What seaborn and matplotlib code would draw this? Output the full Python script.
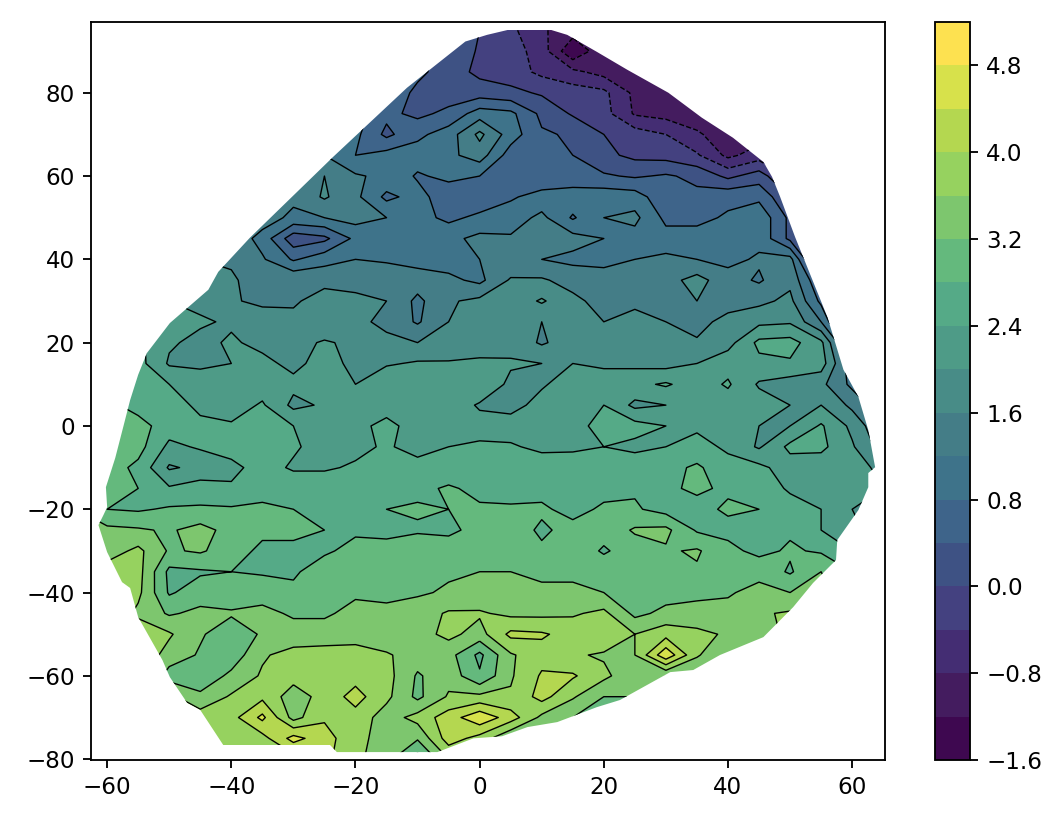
#!/usr/bin/env python3

import numpy as np
import matplotlib
matplotlib.use("Agg")
import matplotlib.pyplot as plt
from matplotlib.colors import ListedColormap
from matplotlib.patches import Polygon
import seaborn as sns

sns.set_style("ticks", {"axes.edgecolor": "black", "text.color": "black",
                        "xtick.color": "black", "ytick.color": "black"})
plt.rcParams['font.family'] = 'DejaVu Sans'

# grid the surface was read on
x_vals = [-65, -60, -55, -50, -45, -40, -35, -30, -25, -20, -15, -10, -5, 0, 5, 10, 15, 20, 25, 30, 35, 40, 45, 50, 55, 60, 65]
y_vals = [95, 90, 85, 80, 75, 70, 65, 60, 55, 50, 45, 40, 35, 30, 25, 20, 15, 10, 5, 0, -5, -10, -15, -20, -25, -30, -35, -40, -45, -50, -55, -60, -65, -70, -75, -80]

# one row per y value, top to bottom
z_rows = [
    [.5, .5, .5, .5, .5, .5, .5, .5, .5, .5, .5, .4, .2, 0, -.3, -.75, -1, -1, -1, -1, -1, -1, -1, -1, -1, -1, -1],
    [.6, .6, .6, .6, .6, .6, .6, .6, .6, .6, .6, .5, .3, -.05, -.2, -.6, -1.55, -.9, -1, -1, -1, -1, -1, -1, -1, -1, -1],
    [.7, .7, .7, .7, .7, .7, .7, .7, .7, .7, .7, .5, .2, -.1, -.2, -.5, -.7, -.95, -1, -1, -1, -1, -1, -1, -1, -1, -1],
    [1, 1, 1, 1, 1, 1, 1, 1, 1, 1, .7, .3, .2, .2, .1, -.05, -.2, -.3, -.9, -1, -1, -1, -1, -1, -1, -1, -1],
    [1.1, 1.1, 1.1, 1.1, 1.1, 1.1, 1.1, 1.1, 1.1, 1, .5, .3, .5, 1, .9, .3, -.05, -.25, -.85, -.95, -1, -1, -1, -1, -1, -1, -1],
    [1.3, 1.3, 1.3, 1.3, 1.3, 1.3, 1.3, 1.3, 1.2, .9, .3, .7, 1, 1.7, 1, .45, .35, 0, -.2, -.4, -.75, -1, -1, -1, -1, -1, -1],
    [1.4, 1.4, 1.4, 1.4, 1.4, 1.4, 1.4, 1.3, 1.2, .8, .95, 1, 1.1, 1.4, .6, .45, .4, .1, -.1, -.15, -.35, -.9, -.6, -.8, -.8, -.8, -.8],
    [1.4, 1.4, 1.4, 1.4, 1.4, 1.4, 1.4, 1.4, 1.6, 1.25, 1.1, .75, .9, .8, .55, .5, .5, .45, .35, .45, .3, -.1, .2, -.5, -.5, -.5, -.5],
    [1.4, 1.4, 1.4, 1.4, 1.4, 1.4, 1.4, 1.3, 1.65, 1.3, .7, .95, .55, .5, .75, .95, 1.05, 1.05, 1, .5, .5, .7, .7, 0, -.3, -.5, -.5],
    [1.4, 1.4, 1.4, 1.4, 1.4, 1.4, 1.4, 1.1, 1.2, 1.35, 1.2, .95, .7, .9, 1, 1.3, .75, 1.2, 1.3, .7, .7, .85, 1.1, .3, -.2, -.4, -.4],
    [1.5, 1.5, 1.5, 1.5, 1.5, 1.5, 1.05, .15, .3, .9, 1.1, 1.05, 1.1, 1.3, 1.25, 1.25, 1.35, 1.2, 1.05, .95, .95, 1, 1.1, .3, -.2, -.4, -.4],
    [1.6, 1.6, 1.6, 1.6, 1.6, 1.5, 1.25, .75, 1.05, 1.2, 1.15, 1.05, 1, 1.2, 1.25, 1.2, 1.1, 1.1, 1.2, 1.3, 1.2, 1.1, 1.25, 1.35, -.6, -.6, -.6],
    [1.9, 1.9, 1.9, 1.9, 1.9, 1.7, 1.25, 1.55, 1.5, 1.45, 1.45, 1.4, 1.3, 1.1, 1.65, 1.65, 1.45, 1.35, 1.4, 1.45, 1.75, 1.35, 1.15, 1.5, .4, -.4, -.4],
    [2, 2, 2, 2, 1.9, 1.65, 1.5, 1.55, 1.75, 1.7, 1.6, 1.1, 1.55, 1.7, 1.75, 2.05, 1.7, 1.45, 1.5, 1.5, 1.6, 1.4, 1.5, 1.7, .7, -.4, -.4],
    [2.3, 2.3, 2.2, 2.1, 2.05, 1.95, 1.85, 1.7, 1.65, 1.7, 1.5, 1.15, 1.6, 1.85, 1.8, 1.6, 1.75, 1.6, 1.75, 1.6, 1.45, 1.75, 1.9, 1.95, 1.2, -.4, -.4],
    [2.6, 2.6, 2.5, 2.05, 1.9, 2.05, 1.9, 1.85, 2.05, 1.9, 1.7, 1.6, 1.65, 1.6, 1.85, 1.55, 1.8, 1.85, 1.6, 1.75, 1.65, 1.85, 2.5, 2.55, 2.1, .4, -.4],
    [2.7, 2.7, 2.55, 1.95, 1.85, 2, 2.1, 1.9, 2.15, 1.9, 1.95, 2.05, 2.05, 2.15, 2.05, 2, 2, 1.95, 1.9, 1.85, 2, 2.25, 2.3, 2.35, 2.2, .9, -.3],
    [2.8, 2.8, 2.7, 2.4, 2.4, 2.2, 2.2, 2.1, 2.05, 2, 2.35, 2.25, 2.3, 2.35, 1.9, 1.95, 2.2, 2.15, 2.3, 2.45, 2.2, 2.45, 1.95, 1.8, 1.7, 1.1, 0],
    [2.9, 2.9, 2.65, 2.6, 2.3, 2.2, 2.45, 1.9, 2.05, 2.2, 2.25, 2.15, 2.25, 1.95, 1.85, 2.15, 2.25, 2.4, 1.9, 2, 2.2, 2.2, 2.2, 2, 2, 1.5, .9],
    [3.1, 3.1, 2.95, 2.6, 2.5, 2.45, 2.45, 2.4, 2.2, 2.3, 2.5, 2.25, 2.25, 2.15, 2.2, 2.2, 2.25, 2.55, 2.55, 2.4, 2.3, 2.2, 2, 2, 2.45, 1.9, 1.2],
    [3.1, 3.1, 2.95, 2.3, 2.45, 2.55, 2.6, 2.45, 2.25, 2.3, 2.45, 2.25, 2.4, 2.5, 2.45, 2.3, 2.35, 2.4, 2.3, 2.4, 2.6, 2.3, 1.95, 2.5, 2.5, 2.05, 1.4],
    [3, 3, 2.7, 1.95, 2.1, 2.3, 2.55, 2.35, 2.35, 2.45, 2.6, 2.55, 2.55, 2.6, 2.65, 2.65, 2.55, 2.6, 2.65, 2.7, 2.85, 2.6, 2.5, 2.2, 2.15, 2.3, 1.8],
    [2.85, 2.85, 2.8, 2.45, 2.6, 2.45, 2.7, 2.65, 2.65, 2.65, 2.6, 2.7, 2.85, 2.7, 2.65, 2.7, 2.7, 2.7, 2.75, 2.75, 2.85, 2.75, 2.6, 2.35, 2.3, 2.4, 2],
    [3.2, 2.8, 2.75, 2.85, 2.85, 2.85, 2.85, 2.8, 2.8, 2.65, 2.8, 2.85, 2.8, 2.85, 2.85, 2.85, 2.7, 2.85, 2.85, 2.65, 2.7, 2.85, 2.8, 2.55, 2.4, 2, 1.6],
    [3.3, 3.3, 3.25, 3.15, 3.35, 3.05, 2.9, 3, 2.8, 2.7, 2.65, 2.75, 2.7, 2.95, 2.95, 2.75, 2.9, 2.95, 3.25, 3.3, 2.75, 2.7, 2.75, 2.75, 2.4, 2.1, 1.8],
    [3.7, 3.4, 3.7, 3.15, 3.25, 3, 2.7, 2.6, 2.7, 3, 3, 3.05, 3.05, 3, 3.05, 2.85, 3.05, 2.75, 3, 3.15, 3.25, 2.9, 2.7, 2.85, 2.75, 2.4, 2],
    [3.8, 3.8, 3.75, 2.7, 2.75, 2.8, 2.75, 2.7, 3.15, 3, 3, 3.1, 3.15, 3.2, 3.2, 3.15, 3.1, 3.05, 3.15, 3.05, 3.15, 2.85, 3.05, 2.75, 3.2, 2.8, 2.5],
    [3.9, 3.9, 3.7, 2.75, 3, 2.95, 3.05, 2.95, 2.95, 3.15, 3.05, 3.15, 3.25, 3.3, 3.3, 3.25, 3.3, 3.2, 3, 3.05, 3.1, 3.15, 3.35, 3.2, 3.3, 3, 2.7],
    [4, 4, 3.5, 3.15, 3.3, 3.25, 3.3, 3.15, 3.15, 3.3, 3.35, 3.4, 3.65, 3.65, 3.5, 3.5, 3.55, 3.7, 3.1, 3.3, 3.35, 3.35, 3.55, 3.65, 3.7, 3.7, 3.7],
    [4, 4, 3.9, 3.65, 3.25, 2.95, 3.25, 3.35, 3.35, 3.4, 3.3, 3.45, 3.7, 3.45, 4.1, 4.05, 3.85, 3.9, 3.6, 3.85, 3.7, 3.55, 3.4, 3.7, 3.7, 3.7, 3.7],
    [4, 4, 3.9, 3.45, 3.15, 2.95, 3.55, 3.75, 3.8, 3.8, 3.65, 3.4, 3.35, 2.7, 3.55, 3.85, 3.65, 3.55, 3.6, 4.7, 3.65, 3.2, 3, 3.2, 3.2, 3.2, 3.2],
    [4, 4, 3.9, 3, 2.9, 3.3, 3.65, 3.75, 3.7, 3.85, 3.75, 3.15, 3.45, 2.85, 3.55, 4.05, 4.05, 3.7, 3.3, 3.2, 3.2, 3.2, 3.2, 3.2, 3.2, 3.2, 3.2],
    [3.7, 3.7, 3.7, 3.7, 3.3, 3.65, 3.9, 3.4, 3.75, 4.15, 3.7, 3.1, 3.65, 3.7, 3.65, 4.15, 3.65, 3.2, 3.2, 3.2, 3.2, 3.2, 3.2, 3.2, 3.2, 3.2, 3.2],
    [3.8, 3.8, 3.8, 3.8, 3.8, 3.85, 4.5, 3.45, 3.95, 3.85, 3.4, 3.75, 4.2, 4.7, 4.2, 3.5, 3.2, 3.2, 3.2, 3.2, 3.2, 3.2, 3.2, 3.2, 3.2, 3.2, 3.2],
    [3.8, 3.8, 3.8, 3.8, 3.8, 3.8, 3.85, 4.55, 4.15, 3.75, 3.4, 3.25, 4.2, 3.85, 3.2, 3.2, 3.2, 3.2, 3.2, 3.2, 3.2, 3.2, 3.2, 3.2, 3.2, 3.2, 3.2],
    [3.8, 3.8, 3.8, 3.8, 3.8, 3.8, 3.8, 3.8, 4.1, 3.7, 3.35, 2.6, 3.6, 3.6, 3.2, 3.2, 3.2, 3.2, 3.2, 3.2, 3.2, 3.2, 3.2, 3.2, 3.2, 3.2, 3.2],
]

# edge of the covered area
edge_x = [-2.3, 1.2, 6.0, 9.7, 14.1, 18.9, 23.8, 30.4, 35.8, 40.8, 45.7, 47.1, 48.4, 50.8, 56, 58.6, 61, 62.6, 63.7, 62.6, 62.6, 61, 57.6, 57.4, 53.7, 50.5, 45.7, 38.7, 34.4, 30.7, 22.6, 18.9, 12.5, 7.7, 3.6, -1.0, -6.8, -23, -24.1, -41.3, -45, -47.1, -49.9, -51.1, -55, -56.3, -57.6, -60, -61.4, -60.6, -60, -60.2, -58.7, -57.4, -56.3, -55, -53.6, -49.9, -43.7, -42.1, -37, -23.6, -11.7]
edge_y = [92.3, 93.9, 95.6, 95.9, 93.9, 89.8, 85.5, 80, 74, 69.2, 63.4, 59.8, 55, 45.4, 26.2, 13.5, 7, -1, -9.9, -11.3, -14.7, -20.2, -27.4, -32.2, -37.7, -43.5, -50.7, -55, -58.6, -59.1, -65.8, -67.5, -71.1, -72.3, -74.5, -75, -78.3, -78.3, -76.6, -76.6, -68.2, -66.5, -60.3, -56.2, -45.9, -38.9, -37.5, -30.3, -23.8, -21.4, -19.5, -14.7, -7.7, -0.2, 6.2, 12.3, 17.5, 24.7, 32.7, 37, 45.2, 64.6, 81.2]

levels = [-1.6, -1.2, -0.8, -0.4, 0.0, 0.4, 0.8, 1.2, 1.6, 2.0, 2.4, 2.8, 3.2, 3.6, 4.0, 4.4, 4.8, 5.2]
cbar_ticks = [-1.6, -0.8, 0.0, 0.8, 1.6, 2.4, 3.2, 4.0, 4.8]

# band colours as they look on the colorbar, low to high
band_colors = ['#3e0850', '#441c5f', '#442d73', '#444180', '#3e5284', '#3e648a', '#3e738a', '#447d87',
               '#488c87', '#4e9b87', '#55aa87', '#64b97d', '#7dc66e', '#96d25f', '#b4d750', '#d7e14b', '#fde150']

fig = plt.figure(figsize=(6.41, 4.91), dpi=166)
ax = fig.add_axes([91 / 1064, 55 / 815, 794 / 1064, 738 / 815])
cax = fig.add_axes([935 / 1064, 55 / 815, 35 / 1064, 738 / 815])

Z = np.array(z_rows)
cmap = ListedColormap(sns.color_palette(band_colors))

filled = ax.contourf(x_vals, y_vals, Z, levels=levels, cmap=cmap)
lines = ax.contour(x_vals, y_vals, Z, levels=levels, colors='k', linewidths=0.6)

outline = Polygon(np.column_stack([edge_x, edge_y]), closed=True, transform=ax.transData)
filled.set_clip_path(outline)
lines.set_clip_path(outline)

ax.set_xlim(-62.6, 65.3)
ax.set_ylim(-80.2, 97)
ax.set_xticks([-60, -40, -20, 0, 20, 40, 60])
ax.set_yticks([-80, -60, -40, -20, 0, 20, 40, 60, 80])
ax.tick_params(labelsize=10)

fig.colorbar(filled, cax=cax, ticks=cbar_ticks)
cax.tick_params(labelsize=10)

fig.savefig('out.png', dpi=166)
